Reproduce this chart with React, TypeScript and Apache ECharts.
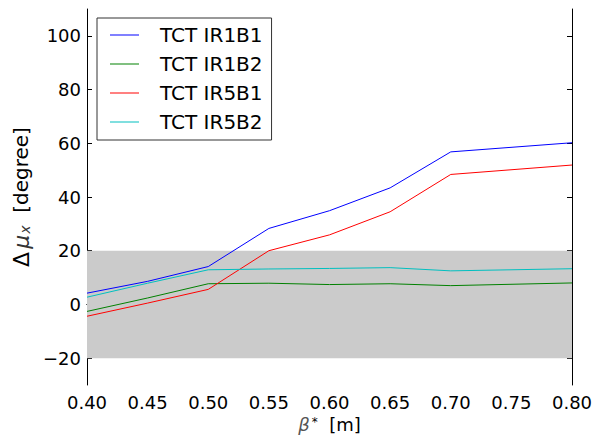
import React, { useEffect, useRef } from "react";
import * as echarts from "echarts";

const betaStar = [0.4, 0.45, 0.5, 0.55, 0.6, 0.65, 0.7, 0.8];
const ir1b1 = [4.2, 8.6, 14.1, 28.3, 34.9, 43.4, 56.8, 60.2];
const ir1b2 = [-2.6, 2.4, 7.7, 7.9, 7.4, 7.7, 7.0, 8.0];
const ir5b1 = [-4.4, 0.5, 5.6, 20.0, 25.9, 34.5, 48.4, 51.9];
const ir5b2 = [2.7, 7.9, 12.9, 13.2, 13.4, 13.7, 12.5, 13.3];
const seriesNames = ["TCT IR1B1", "TCT IR1B2", "TCT IR5B1", "TCT IR5B2"];
const seriesColors = ["#0000ff", "#008000", "#ff0000", "#00bfbf"];
const yTicks = [-20, 0, 20, 40, 60, 80, 100];
const band = [-20, 20];

const FONT = "DejaVu Sans";

export default function App() {
  const ref = useRef<HTMLDivElement>(null);
  useEffect(() => {
    if (!ref.current) return;
    const chart = echarts.init(ref.current, undefined, { renderer: "svg" });
    const all = [ir1b1, ir1b2, ir5b1, ir5b2];
    const fmtY = (v: number) => (v < 0 ? "\u2212" + Math.abs(v) : String(v));
    const axisCommon = {
      axisLine: { show: true, lineStyle: { color: "#000", width: 1 } },
      axisTick: { show: true, inside: true, length: 5, lineStyle: { color: "#000", width: 1 } },
      splitLine: { show: false },
    };
    chart.setOption({
      animation: false,
      backgroundColor: "#fff",
      grid: { left: 87, right: 36, top: 9, bottom: 50, containLabel: false, outerBoundsMode: "none" },
      legend: {
        data: seriesNames,
        orient: "vertical",
        left: 97,
        top: 18,
        padding: [7, 9, 8, 13],
        itemGap: 9,
        itemWidth: 29,
        itemHeight: 1,
        icon: "rect",
        backgroundColor: "#fff",
        borderColor: "#333",
        borderWidth: 1,
        borderRadius: 0,
        textStyle: { fontFamily: FONT, fontSize: 20, color: "#000", padding: [0, 0, 0, 16] },
      },
      xAxis: [
        {
          type: "value",
          min: 0.4,
          max: 0.8,
          interval: 0.05,
          position: "bottom",
          ...axisCommon,
          axisLabel: {
            margin: 8,
            fontFamily: FONT,
            fontSize: 18,
            color: "#000",
            formatter: (v: number) => v.toFixed(2),
          },
          name: "{i|\u03b2}{s|*}  [m]",
          nameLocation: "middle",
          nameGap: 20,
          nameTextStyle: {
            fontFamily: FONT,
            fontSize: 18,
            lineHeight: 18,
            color: "#000",
            rich: {
              i: { fontFamily: FONT, fontStyle: "italic", fontSize: 18, lineHeight: 18, color: "#555" },
              s: { fontFamily: FONT, fontSize: 12, lineHeight: 18, color: "#000", verticalAlign: "top", padding: [0, 0, 0, 2] },
            },
          },
        },
        {
          type: "value",
          min: 0.4,
          max: 0.8,
          interval: 0.05,
          position: "top",
          ...axisCommon,
          axisLabel: { show: false },
        },
      ],
      yAxis: [
        {
          type: "value",
          min: -30,
          max: 110,
          position: "left",
          ...axisCommon,
          axisTick: { ...axisCommon.axisTick, customValues: yTicks },
          axisLabel: {
            customValues: yTicks,
            margin: 6,
            fontFamily: FONT,
            fontSize: 18,
            color: "#000",
            formatter: fmtY,
          },
          name: "{d|\u0394}{i|\u03bc}{s|x}  [degree]",
          nameLocation: "middle",
          nameGap: 46,
          nameTextStyle: {
            fontFamily: FONT,
            fontSize: 20,
            color: "#000",
            rich: {
              d: { fontFamily: FONT, fontSize: 22, color: "#000", padding: [0, 3, 0, 0] },
              i: { fontFamily: FONT, fontStyle: "italic", fontSize: 22, color: "#333" },
              s: { fontFamily: FONT, fontStyle: "italic", fontSize: 14, color: "#333", verticalAlign: "bottom", padding: [0, 0, 0, 1] },
            },
          },
        },
        {
          type: "value",
          min: -30,
          max: 110,
          position: "right",
          ...axisCommon,
          axisTick: { ...axisCommon.axisTick, customValues: yTicks },
          axisLabel: { show: false, customValues: yTicks },
        },
      ],
      series: [
        {
          name: "band",
          type: "line",
          data: [],
          z: 1,
          silent: true,
          markArea: {
            silent: true,
            itemStyle: { color: "#cbcbcb", opacity: 1 },
            data: [[{ yAxis: band[0] }, { yAxis: band[1] }]],
          },
        },
        ...seriesNames.map((name, i) => ({
          name,
          type: "line",
          z: 2,
          symbol: "none",
          showSymbol: false,
          color: seriesColors[i],
          lineStyle: { color: seriesColors[i], width: 1 },
          data: betaStar.map((x, j) => [x, all[i][j]]),
        })),
      ],
    });
    return () => chart.dispose();
  }, []);
  return (
    <div
      ref={ref}
      style={{ position: "fixed", left: 0, top: 0, width: 608, height: 435 }}
    />
  );
}
